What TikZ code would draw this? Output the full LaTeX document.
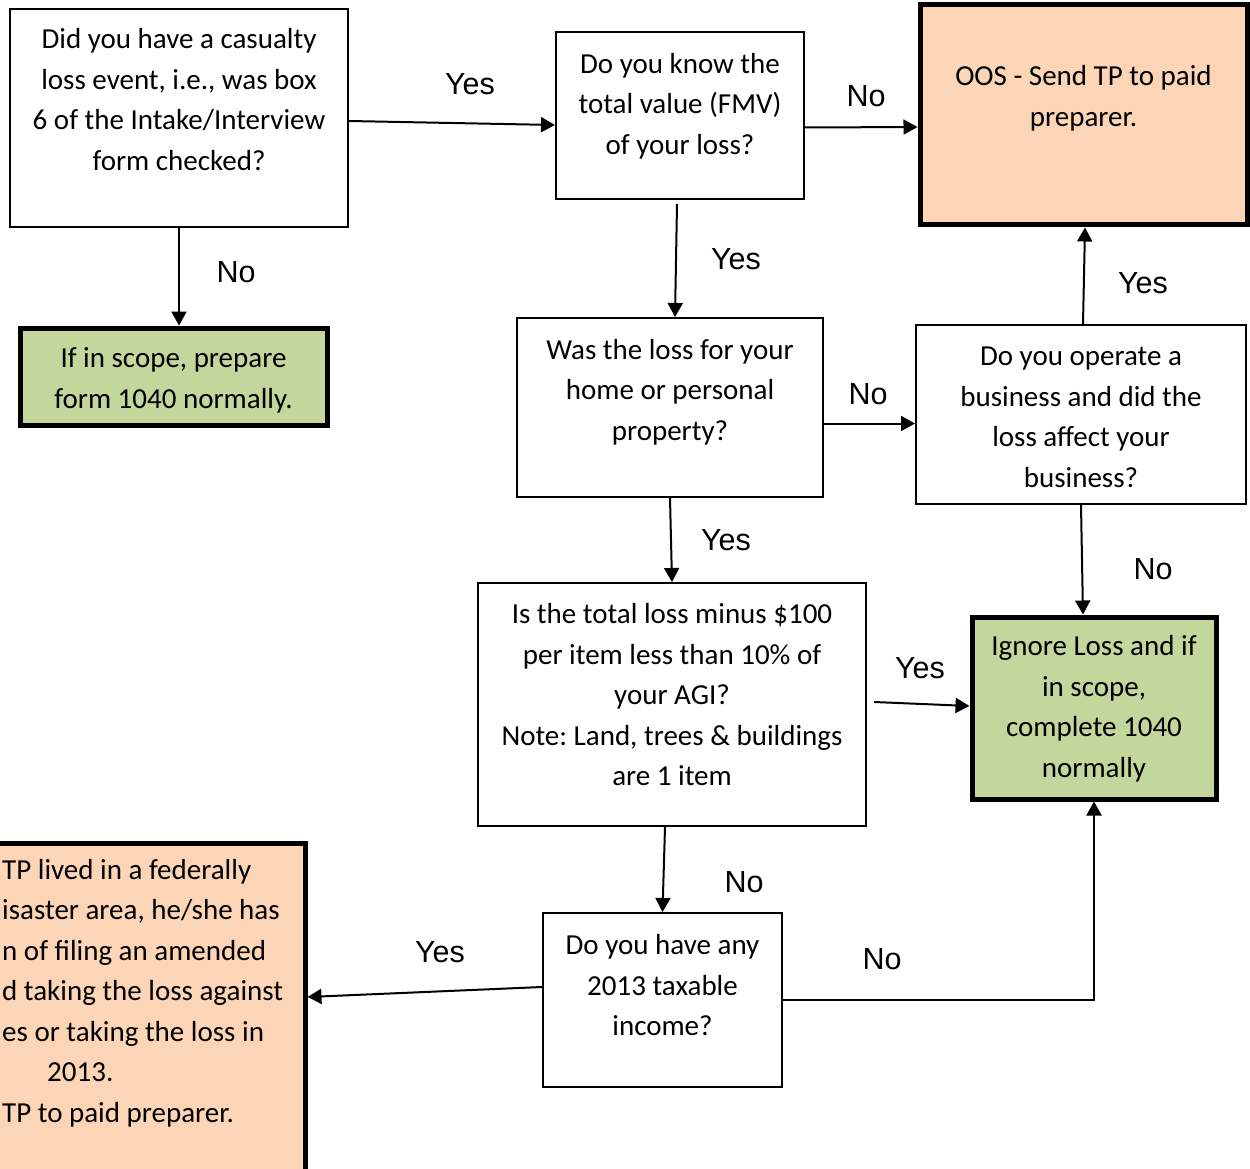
\documentclass[tikz,border=0pt]{standalone}
\usepackage{fontspec}
\setmainfont{Carlito}
\newfontfamily\arialfont{Liberation Sans}
\usetikzlibrary{arrows.meta}
\definecolor{peach}{RGB}{251,213,181}
\definecolor{olivegreen}{RGB}{195,214,155}
\frenchspacing
\newcommand\boxtext[4][12.5pt]{\begin{minipage}[t][#3pt][t]{#2pt}\centering\vspace*{#1}\strut #4\end{minipage}}

\begin{document}
\begin{tikzpicture}[x=1pt,y=-1pt,
  plainbox/.style={draw,line width=2pt,inner sep=0pt,font=\fontsize{29}{40.5}\selectfont},
  greenbox/.style={plainbox,line width=5pt,fill=olivegreen},
  peachbox/.style={plainbox,line width=5pt,fill=peach},
  arr/.style={-{Triangle[length=14pt,width=15pt]},line width=2pt},
  ans/.style={inner sep=0pt,font=\arialfont\fontsize{30.5}{36}\selectfont}]
  \useasboundingbox (0,0) rectangle (1250,1169);
  \clip (0,0) rectangle (1250,1169);

  % questions
  \node[plainbox] (q1) at (179,118) {\boxtext[11.5pt]{338}{218}{Did you have a casualty\\loss event, i.e., was box\\6 of the Intake/Interview\\form checked?}};
  \node[plainbox] (fmv) at (680,115.5) {\boxtext[13pt]{248}{167}{Do you know the\\total value (FMV)\\of your loss?}};
  \node[plainbox] (home) at (670,407.5) {\boxtext[13pt]{306}{179}{Was the loss for your\\home or personal\\property?}};
  \node[plainbox] (biz) at (1081,414.5) {\boxtext{330}{179}{Do you operate a\\business and did the\\loss affect your\\business?}};
  \node[plainbox] (agi) at (672,704.5) {\boxtext{388}{243}{Is the total loss minus \$100\\per item less than 10\% of\\your AGI?\\Note: Land, trees \& buildings\\are 1 item}};
  \node[plainbox] (income) at (662.5,1000) {\boxtext[13.5pt]{239}{174}{Do you have any\\2013 taxable\\income?}};

  % outcomes
  \node[greenbox] (scope) at (173.5,376.5) {\boxtext[11.5pt]{307}{97}{If in scope, prepare\\form 1040 normally.}};
  \node[greenbox] (ignore) at (1094,708) {\boxtext[10.5pt]{244}{182}{Ignore Loss and if\\in scope,\\complete 1040\\normally}};
  \node[peachbox] (oos) at (1083.5,115) {\boxtext[52.5pt]{327}{220}{OOS - Send TP to paid\\preparer.}};
  \node[peachbox,minimum width=454pt,minimum height=357pt] (tpbox) at (78,1021.5) {};
  \node[inner sep=0pt,anchor=north west,font=\fontsize{29}{40.5}\selectfont] (tptext) at (2,850.6)
    {\begin{minipage}[t]{330pt}\raggedright\strut TP lived in a federally\\isaster area, he/she has\\n of filing an amended\\d taking the loss against\\es or taking the loss in\\\hspace*{45pt}2013.\\TP to paid preparer.\end{minipage}};

  % connectors
  \draw[arr] ([yshift=-3pt]q1.east) -- ([yshift=-9.5pt]fmv.west);
  \draw[arr] (q1.south) -- (q1.south |- scope.north);
  \draw[arr] ([yshift=-12pt]fmv.east) -- ([yshift=-12pt]oos.west);
  \draw[arr] ([shift={(-3pt,-4pt)}]fmv.south) -- ([xshift=5pt]home.north);
  \draw[arr] ([yshift=-16pt]home.east) -- ([yshift=-9pt]biz.west);
  \draw[arr] ([xshift=2pt]biz.north) -- ([xshift=1.5pt]oos.south);
  \draw[arr] (biz.south) -- ([xshift=-11pt]ignore.north);
  \draw[arr] (home.south) -- (agi.north);
  \draw[arr] ([shift={(7pt,2.5pt)}]agi.east) -- ([yshift=2pt]ignore.west);
  \draw[arr] ([xshift=-7pt]agi.south) -- (income.north);
  \draw[arr] ([yshift=13pt]income.west) -- ([yshift=24.5pt]tpbox.east);
  \draw[arr] (income.east) -| (ignore.south);

  % answers
  \foreach \t/\x/\y [count=\i] in {Yes/470/84, No/236/272, No/866/96, Yes/736/259,
      No/868/394, Yes/1143/283, No/1153/569, Yes/726/540, Yes/920/668,
      No/744/882, Yes/440/952, No/882/959}
    \node[ans] (lab\i) at (\x,\y) {\t};
\end{tikzpicture}
\end{document}
